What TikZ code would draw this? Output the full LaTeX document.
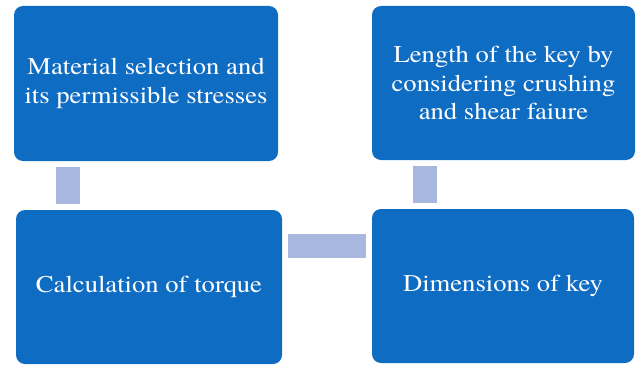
\documentclass[tikz,border=0pt]{standalone}
\usepackage{fontspec}
\setmainfont{TeX Gyre Termes}[FakeStretch=1.11]
\definecolor{boxblue}{HTML}{0F6CC3}
\definecolor{barblue}{HTML}{A7B7DD}

\begin{document}
\begin{tikzpicture}[x=1pt,y=1pt,
    step box/.style ={rectangle, rounded corners=9pt, fill=boxblue,
      text=white, align=center, inner sep=0pt,
      font=\rmfamily\fontsize{24}{28.5}\selectfont},
    link/.style ={line width=24pt, draw=barblue, shorten >=6pt, shorten <=6pt}]
   \useasboundingbox (0,0) rectangle (636,-366);
   \node[step box, minimum width=264pt, minimum height=155pt] (mat) at (146,-83.5)
      {Material selection and\\its permissible stresses};
   \node[step box, minimum width=263pt, minimum height=154pt] (len) at (503.5,-83)
      {Length of the key by\\considering crushing\\and shear faiure};
   \node[step box, minimum width=266pt, minimum height=154pt] (torque) at (149,-287)
      {Calculation of torque};
   \node[step box, minimum width=262pt, minimum height=154pt] (dims) at (503,-286)
      {Dimensions of key};
   \draw[link] ([xshift=54pt]mat.south west) -- ([xshift=54pt]mat.south west |- torque.north);
   \draw[link] ([yshift=-36pt]torque.north east) -- ([yshift=-36pt]torque.north east -| dims.west);
   \draw[link] ([xshift=53pt]dims.north west) -- ([xshift=53pt]dims.north west |- len.south);
 \end{tikzpicture}
\end{document}
